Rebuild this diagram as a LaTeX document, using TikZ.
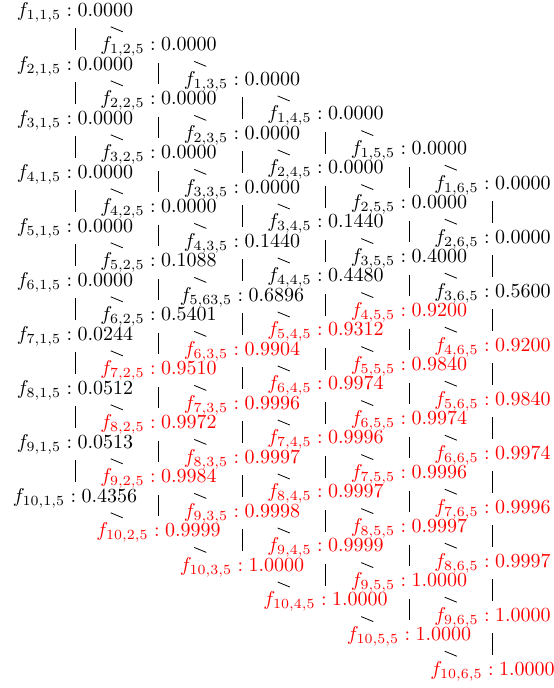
\documentclass[tikz,border=0pt]{standalone}
\usepackage{amsmath}
\usetikzlibrary{calc}
\tikzset{
    latnode/.style={inner sep=0pt, anchor=center},
    lathigh/.style={latnode, text=red},
    latdown/.style={shorten <=3pt, shorten >=3pt},
    latdiag/.style={shorten <=6pt, shorten >=6pt}
}

\begin{document}
\begin{tikzpicture}[x=0.5pt, y=-0.5pt]
  \useasboundingbox (0,0) rectangle (553,688);
  % lattice values, one list per column j (rows i = 1..10)
  \foreach \j/\vals in {
      1/{0.0000,0.0000,0.0000,0.0000,0.0000,0.0000,0.0244,0.0512,0.0513,0.4356},
      2/{0.0000,0.0000,0.0000,0.0000,0.1088,0.5401,0.9510,0.9972,0.9984,0.9999},
      3/{0.0000,0.0000,0.0000,0.1440,0.6896,0.9904,0.9996,0.9997,0.9998,1.0000},
      4/{0.0000,0.0000,0.1440,0.4480,0.9312,0.9974,0.9996,0.9997,0.9999,1.0000},
      5/{0.0000,0.0000,0.4000,0.9200,0.9840,0.9974,0.9996,0.9997,1.0000,1.0000},
      6/{0.0000,0.0000,0.5600,0.9200,0.9840,0.9974,0.9996,0.9997,1.0000,1.0000}}{
    \foreach \v [count=\i] in \vals {
      \pgfmathtruncatemacro\hi{\v>0.9}
      \ifnum\hi=1 \def\st{lathigh}\else\def\st{latnode}\fi
      \def\sub{\i,\j,5}
      \ifnum\i=5 \ifnum\j=3 \def\sub{5,63,5}\fi\fi
      \node[\st] (f-\i-\j) at ({75+83.5*(\j-1)}, {12+54*(\i-1)+34.6*(\j-1)})
            {$f_{\sub} : \v$};
    }
  }
  % down links (i,j) -- (i+1,j)
  \foreach \j in {1,...,6}
    \foreach \i in {1,...,9} {
      \pgfmathtruncatemacro\n{\i+1}
      \draw[latdown] (f-\i-\j) -- (f-\n-\j);
    }
  % side links (i,j) -- (i,j+1)
  \foreach \j in {1,...,5}
    \foreach \i in {1,...,10} {
      \pgfmathtruncatemacro\k{\j+1}
      \draw[latdiag] (f-\i-\j) -- (f-\i-\k);
    }
\end{tikzpicture}
\end{document}
